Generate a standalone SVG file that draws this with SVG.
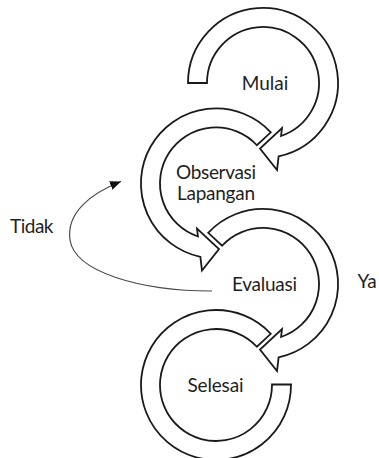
<svg xmlns="http://www.w3.org/2000/svg" width="379" height="458" viewBox="0 0 379 458">
  <style>
    .ring { fill: #ffffff; stroke: #1a1a1a; stroke-width: 1.8; stroke-linejoin: miter; }
    .lbl { font-family: Lato, "Liberation Sans", sans-serif; font-size: 19px; fill: #1f1f1f; }
    .mid { text-anchor: middle; }
    .conn { fill: none; stroke: #4a4a4a; stroke-width: 1.2; }
  </style>
  <defs>
    <marker id="arr" markerUnits="userSpaceOnUse" markerWidth="12" markerHeight="10" refX="11" refY="4.5" orient="auto">
      <path d="M0,0 L11,4.5 L0,9 Z" fill="#111111"/>
    </marker>
  </defs>

  <g id="node-mulai">
    <path class="ring" d="M188,83 A75,75 0 1 1 278.63,156.3 L277,170 L260,148.5 L282,128 L281.05,136 A56,56 0 1 0 207,83 Z"/>
    <text class="lbl mid" x="265" y="90" textLength="46.5">Mulai</text>
  </g>

  <g id="node-observasi">
    <path class="ring" d="M270.79,132.29 A75,75 0 1 0 200.37,256.8 L202,270.5 L219,249 L197,228.5 L197.95,236.5 A56,56 0 1 1 256.89,145.24 Z"/>
    <text class="lbl mid" x="216" y="178.5" textLength="80">Observasi</text>
    <text class="lbl mid" x="216" y="199.5" textLength="78">Lapangan</text>
  </g>

  <g id="node-evaluasi">
    <path class="ring" d="M208.21,232.79 A75,75 0 1 1 278.63,357.3 L277,371 L260,349.5 L282,329 L281.05,337 A56,56 0 1 0 222.11,245.74 Z"/>
    <text class="lbl mid" x="264.5" y="291" textLength="65">Evaluasi</text>
  </g>

  <g id="node-selesai">
    <path class="ring" d="M270.79,333.79 A75,75 0 1 0 291,384.5 L272,384.5 A56,56 0 1 1 256.89,346.74 Z"/>
    <text class="lbl mid" x="215.5" y="391.5" textLength="56">Selesai</text>
  </g>

  <g id="connectors">
    <path class="conn" d="M212,291 C140,291 75,272 70,240 C66,212 92,193 121,181.5" marker-end="url(#arr)"/>
  </g>

  <g id="labels">
    <text class="lbl" x="10" y="232.7" textLength="43.5">Tidak</text>
    <text class="lbl" x="357.5" y="287.5" textLength="19.3">Ya</text>
  </g>
</svg>
